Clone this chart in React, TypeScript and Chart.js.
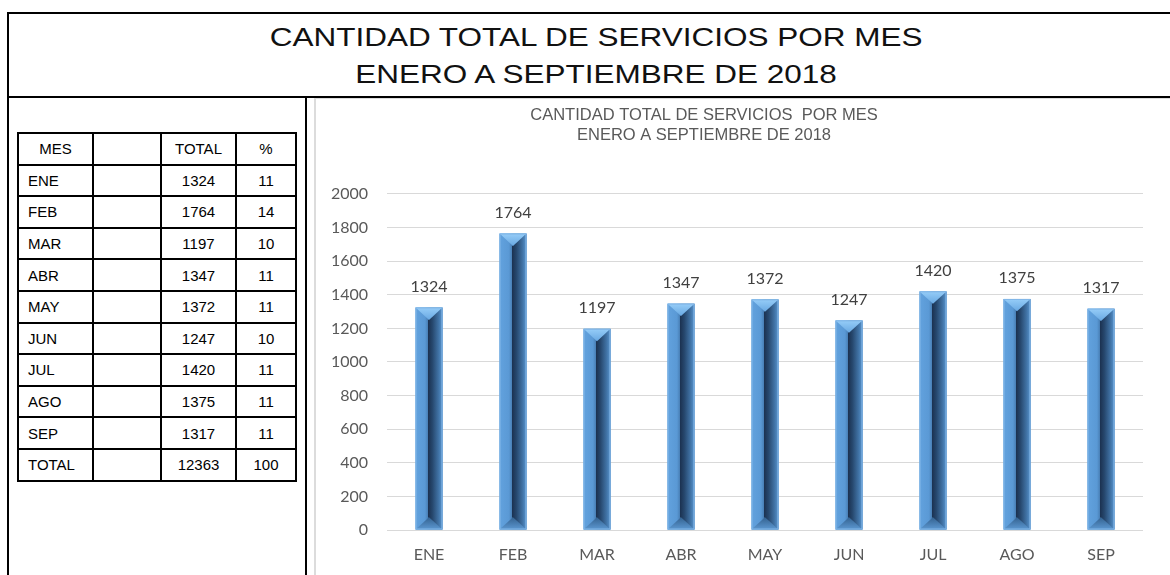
import React, { useEffect, useRef } from 'react';
import { Chart, registerables } from 'chart.js';

Chart.register(...registerables);

// ---------- data ----------
const MONTHS = ['ENE', 'FEB', 'MAR', 'ABR', 'MAY', 'JUN', 'JUL', 'AGO', 'SEP'];
const TOTALS = [1324, 1764, 1197, 1347, 1372, 1247, 1420, 1375, 1317];
const PERCENTS = [11, 14, 10, 11, 11, 10, 11, 11, 11];
const TOTAL_LABEL = 'TOTAL';
const GRAND_TOTAL = 12363;
const GRAND_PERCENT = 100;
const TABLE_HEADERS = ['MES', '', 'TOTAL', '%'];
const MAIN_TITLE = ['CANTIDAD TOTAL DE SERVICIOS POR MES', 'ENERO A SEPTIEMBRE DE 2018'];
const CHART_TITLE = ['CANTIDAD TOTAL DE SERVICIOS  POR MES', 'ENERO A SEPTIEMBRE DE 2018'];
const Y_MIN = 0;
const Y_MAX = 2000;
const Y_STEP = 200;

// ---------- plugins ----------
const bevelPlugin = {
  id: 'bevelBars',
  afterDatasetsDraw(chart: any) {
    const ctx = chart.ctx as CanvasRenderingContext2D;
    const meta = chart.getDatasetMeta(0);
    meta.data.forEach((bar: any) => {
      const { x, y, base, width } = bar.getProps(['x', 'y', 'base', 'width'], true);
      const l = x - width / 2;
      const r = x + width / 2;
      const t = Math.min(y, base);
      const b = Math.max(y, base);
      const h = Math.min(width * 0.46, (b - t) / 2);
      ctx.save();
      // left face
      const gl = ctx.createLinearGradient(l, 0, x, 0);
      gl.addColorStop(0, '#62a2de');
      gl.addColorStop(0.7, '#5a99d5');
      gl.addColorStop(1, '#4275a9');
      ctx.fillStyle = gl;
      ctx.fillRect(l, t, width, b - t);
      // right face (dark ridge to medium)
      const gr = ctx.createLinearGradient(x - 1, 0, r, 0);
      gr.addColorStop(0, '#1b3150');
      gr.addColorStop(0.3, '#26476d');
      gr.addColorStop(0.75, '#4275a8');
      gr.addColorStop(1, '#5a96cf');
      ctx.fillStyle = gr;
      ctx.beginPath();
      ctx.moveTo(x - 1, t + h);
      ctx.lineTo(r, t);
      ctx.lineTo(r, b);
      ctx.lineTo(x - 1, b - h);
      ctx.closePath();
      ctx.fill();
      // top bevel
      const gt = ctx.createLinearGradient(0, t, 0, t + h);
      gt.addColorStop(0, '#96cdf8');
      gt.addColorStop(1, '#68a8e2');
      ctx.fillStyle = gt;
      ctx.beginPath();
      ctx.moveTo(l, t);
      ctx.lineTo(r, t);
      ctx.lineTo(x, t + h);
      ctx.closePath();
      ctx.fill();
      // bottom bevel
      const gb = ctx.createLinearGradient(0, b - h, 0, b);
      gb.addColorStop(0, '#33618f');
      gb.addColorStop(1, '#5c98d1');
      ctx.fillStyle = gb;
      ctx.beginPath();
      ctx.moveTo(l, b);
      ctx.lineTo(r, b);
      ctx.lineTo(x, b - h);
      ctx.closePath();
      ctx.fill();
      // edge
      ctx.strokeStyle = '#82b7e8';
      ctx.lineWidth = 1;
      ctx.strokeRect(l + 0.5, t + 0.5, width - 1, b - t - 1);
      ctx.restore();
    });
  },
};

const valueLabelPlugin = {
  id: 'valueLabels',
  afterDatasetsDraw(chart: any) {
    const ctx = chart.ctx as CanvasRenderingContext2D;
    const meta = chart.getDatasetMeta(0);
    const values = chart.data.datasets[0].data as number[];
    ctx.save();
    ctx.font = '16px Lato';
    ctx.fillStyle = '#404040';
    ctx.textAlign = 'center';
    ctx.textBaseline = 'middle';
    meta.data.forEach((bar: any, i: number) => {
      ctx.fillText(String(values[i]), bar.x, bar.y - 21);
    });
    ctx.restore();
  },
};

function BarChart() {
  const ref = useRef<HTMLCanvasElement | null>(null);
  useEffect(() => {
    if (!ref.current) return;
    const chart = new Chart(ref.current, {
      type: 'bar',
      data: {
        labels: MONTHS,
        datasets: [
          {
            data: TOTALS,
            backgroundColor: '#5b9bd5',
            borderWidth: 0,
            barPercentage: 0.32,
            categoryPercentage: 1,
          },
        ],
      },
      options: {
        animation: false,
        responsive: false,
        devicePixelRatio: 1,
        layout: { padding: { left: -51, right: 27, top: 0, bottom: 0 } },
        plugins: {
          legend: { display: false },
          tooltip: { enabled: false },
          title: {
            display: true,
            text: CHART_TITLE,
            color: '#595959',
            font: { family: 'Liberation Sans', size: 16.5, weight: 'normal', lineHeight: 1.18 },
            padding: { top: 8, bottom: 49 },
          },
        },
        scales: {
          x: {
            grid: { display: false, drawTicks: false },
            border: { display: false },
            ticks: { color: '#595959', font: { family: 'Lato', size: 16 }, padding: 15 },
            afterFit: (scale: any) => {
              scale.height = 45;
            },
          },
          y: {
            min: Y_MIN,
            max: Y_MAX,
            ticks: {
              stepSize: Y_STEP,
              color: '#595959',
              font: { family: 'Lato', size: 16 },
              padding: 19,
              callback: (v: any) => String(v),
            },
            grid: { color: '#d9d9d9', lineWidth: 1, drawTicks: false },
            border: { display: false },
            afterFit: (scale: any) => {
              scale.width = 122;
            },
          },
        },
      },
      plugins: [bevelPlugin, valueLabelPlugin],
    } as any);
    return () => chart.destroy();
  }, []);
  return (
    <canvas
      ref={ref}
      width={854}
      height={477}
      style={{ position: 'absolute', left: 316, top: 98, width: 854, height: 477, display: 'block' }}
    />
  );
}

const cellBase: React.CSSProperties = {
  border: '2px solid #000',
  padding: 0,
  fontFamily: '"Liberation Sans", Arial, sans-serif',
  fontSize: 15,
  color: '#000',
  overflow: 'hidden',
  whiteSpace: 'nowrap',
};

function DataTable() {
  const rows = MONTHS.map((m, i) => [m, '', String(TOTALS[i]), String(PERCENTS[i])]);
  rows.push([TOTAL_LABEL, '', String(GRAND_TOTAL), String(GRAND_PERCENT)]);
  return (
    <table
      style={{
        position: 'absolute',
        left: 17,
        top: 132,
        width: 280,
        borderCollapse: 'collapse',
        tableLayout: 'fixed',
      }}
    >
      <colgroup>
        <col style={{ width: 75 }} />
        <col style={{ width: 68 }} />
        <col style={{ width: 75 }} />
        <col style={{ width: 60 }} />
      </colgroup>
      <tbody>
        <tr style={{ height: 31.6 }}>
          {TABLE_HEADERS.map((h, i) => (
            <td key={i} style={{ ...cellBase, textAlign: 'center' }}>
              {h}
            </td>
          ))}
        </tr>
        {rows.map((r, ri) => (
          <tr key={ri} style={{ height: 31.6 }}>
            {r.map((c, ci) => (
              <td
                key={ci}
                style={{
                  ...cellBase,
                  textAlign: ci === 0 ? 'left' : 'center',
                  paddingLeft: ci === 0 ? 9 : 0,
                }}
              >
                {c}
              </td>
            ))}
          </tr>
        ))}
      </tbody>
    </table>
  );
}

export default function App() {
  return (
    <div
      style={{
        position: 'absolute',
        left: 0,
        top: 0,
        width: 1170,
        height: 575,
        overflow: 'hidden',
        background: '#fff',
      }}
    >
      {/* outer frame */}
      <div
        style={{
          position: 'absolute',
          left: 7,
          top: 12,
          width: 1200,
          height: 700,
          borderLeft: '2px solid #000',
          borderTop: '2px solid #000',
          boxSizing: 'border-box',
        }}
      />
      {/* main title */}
      {MAIN_TITLE.map((line, i) => (
        <div
          key={i}
          style={{
            position: 'absolute',
            left: 0,
            top: 18.5 + i * 37,
            width: 1192,
            textAlign: 'center',
            lineHeight: '37px',
            fontFamily: '"Liberation Sans", Arial, sans-serif',
            fontSize: 25,
            color: '#111',
            whiteSpace: 'nowrap',
          }}
        >
          <span style={{ display: 'inline-block', transform: 'scaleX(1.26)', transformOrigin: 'center' }}>
            {line}
          </span>
        </div>
      ))}
      {/* title separator */}
      <div style={{ position: 'absolute', left: 7, top: 96, width: 1200, height: 2, background: '#000' }} />
      {/* panel divider */}
      <div style={{ position: 'absolute', left: 305, top: 96, width: 2, height: 600, background: '#000' }} />
      {/* chart object border */}
      <div
        style={{
          position: 'absolute',
          left: 314,
          top: 98,
          width: 900,
          height: 600,
          borderLeft: '2px solid #dcdcdc',
          borderTop: '1px solid #dcdcdc',
          boxSizing: 'border-box',
        }}
      />
      <DataTable />
      <BarChart />
    </div>
  );
}
